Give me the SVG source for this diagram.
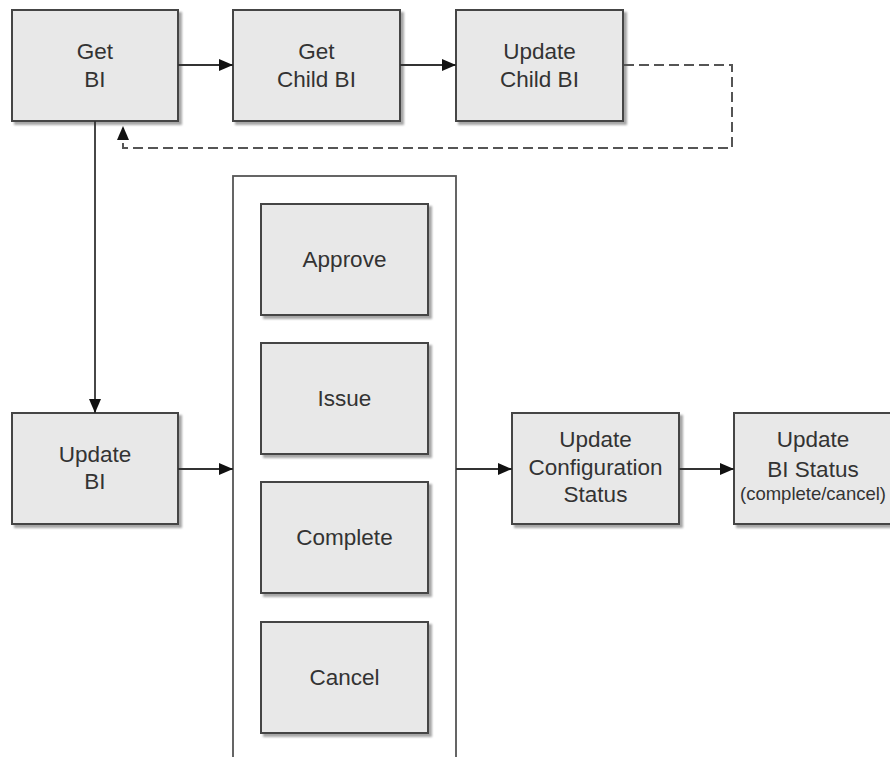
<svg xmlns="http://www.w3.org/2000/svg" width="890" height="757" viewBox="0 0 890 757">
<style>
.box{fill:#e8e8e8;stroke:#444;stroke-width:2;filter:url(#sh)}
.cont{fill:#fff;stroke:#555;stroke-width:1.8}
.t{font-family:"Liberation Sans",Arial,sans-serif;font-size:22.5px;fill:#333;text-anchor:middle}
.s{font-size:18.5px}
.c{fill:none;stroke:#333;stroke-width:1.8}
.d{fill:none;stroke:#555;stroke-width:2;stroke-dasharray:10 5}
</style>
<defs>
<filter id="sh" x="-10%" y="-10%" width="130%" height="130%">
<feDropShadow dx="3" dy="3" stdDeviation="1.2" flood-color="#000" flood-opacity="0.35"/>
</filter>
<marker id="a" markerUnits="userSpaceOnUse" markerWidth="16" markerHeight="14" refX="14" refY="7" orient="auto">
<path d="M0,1 L14,7 L0,13 z" fill="#111"/>
</marker>
</defs>
<rect class="cont" x="233" y="176" width="223" height="620"/>
<g id="getbi"><rect class="box" x="12" y="10" width="166" height="111"/><text class="t" x="95" y="59">Get</text><text class="t" x="95" y="87">BI</text></g>
<g id="getchild"><rect class="box" x="233" y="10" width="167" height="111"/><text class="t" x="316.5" y="59">Get</text><text class="t" x="316.5" y="87">Child BI</text></g>
<g id="updchild"><rect class="box" x="456" y="10" width="167" height="111"/><text class="t" x="539.5" y="59">Update</text><text class="t" x="539.5" y="87">Child BI</text></g>
<g id="updbi"><rect class="box" x="12" y="413" width="166" height="111"/><text class="t" x="95" y="462">Update</text><text class="t" x="95" y="489">BI</text></g>
<g id="approve"><rect class="box" x="261" y="204" width="167" height="111"/><text class="t" x="344.5" y="267">Approve</text></g>
<g id="issue"><rect class="box" x="261" y="343" width="167" height="111"/><text class="t" x="344.5" y="406">Issue</text></g>
<g id="complete"><rect class="box" x="261" y="482" width="167" height="111"/><text class="t" x="344.5" y="545">Complete</text></g>
<g id="cancel"><rect class="box" x="261" y="622" width="167" height="111"/><text class="t" x="344.5" y="685">Cancel</text></g>
<g id="updconf"><rect class="box" x="512" y="413" width="167" height="111"/><text class="t" x="595.5" y="447">Update</text><text class="t" x="595.5" y="475">Configuration</text><text class="t" x="595.5" y="502">Status</text></g>
<g id="updbistatus"><rect class="box" x="734" y="413" width="170" height="111"/><text class="t" x="813" y="447">Update</text><text class="t" x="813" y="477">BI Status</text><text class="t s" x="813" y="500">(complete/cancel)</text></g>
<g id="connectors">
<path class="c" d="M178,65 H233" marker-end="url(#a)"/>
<path class="c" d="M400,65 H456" marker-end="url(#a)"/>
<path class="d" d="M624,65 H732 V148 H123 V126" marker-end="url(#a)"/>
<path class="c" d="M95,121 V413" marker-end="url(#a)"/>
<path class="c" d="M178,469 H233" marker-end="url(#a)"/>
<path class="c" d="M456,469 H512" marker-end="url(#a)"/>
<path class="c" d="M679,469 H734" marker-end="url(#a)"/>
</g>
</svg>
